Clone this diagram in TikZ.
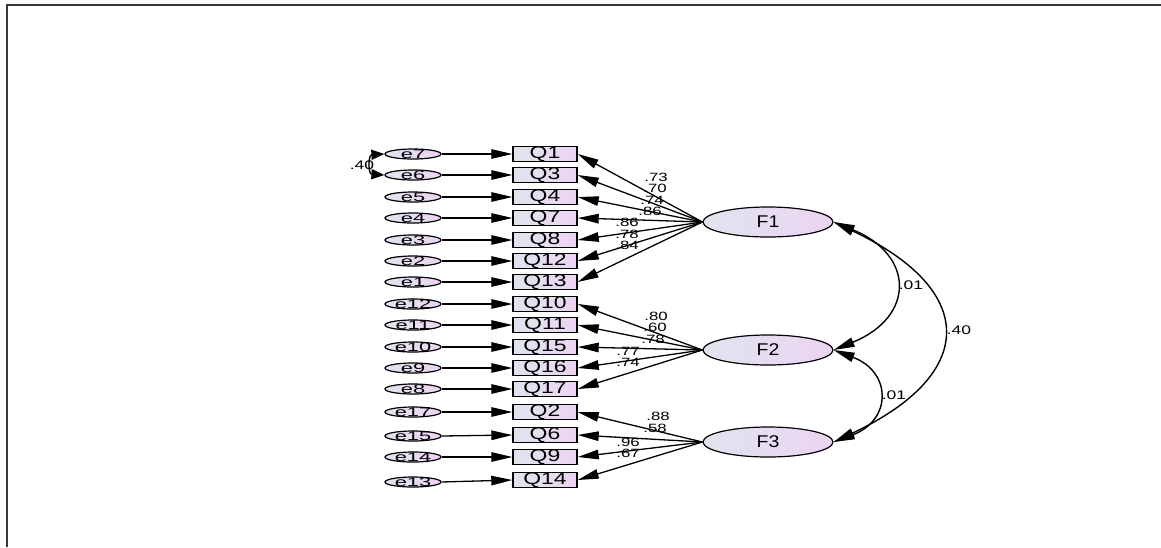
\documentclass[tikz,border=0pt]{standalone}
\usepackage{graphicx}
\usepackage{fontspec}
\setmainfont{Liberation Sans}
\usetikzlibrary{arrows.meta,shapes.geometric}
\definecolor{lgrey}{RGB}{224,228,238}
\definecolor{lvio}{RGB}{237,212,243}
\definecolor{framec}{RGB}{55,55,55}
\newcommand\hstr[2]{\scalebox{#1}[1]{#2}}
\begin{document}
\begin{tikzpicture}[x=1pt,y=-1pt,
  tipend/.style={-{Triangle[length=21pt,width=9.5pt]}, line width=1.3pt},
  tipboth/.style={{Triangle[length=21pt,width=9.5pt]}-{Triangle[length=21pt,width=9.5pt]}, line width=1.4pt},
  tipsmall/.style={{Triangle[length=13pt,width=10pt]}-{Triangle[length=13pt,width=10pt]}, line width=1.4pt},
  ebox/.style={ellipse, draw, line width=1.2pt, minimum width=56pt, minimum height=10pt, inner sep=0pt, left color=lgrey, right color=lvio},
  etxt/.style={inner sep=0pt, font=\fontsize{12.5}{12.5}\selectfont},
  qbox/.style={rectangle, draw, line width=1.4pt, minimum width=64pt, minimum height=15pt, inner sep=0pt, left color=lgrey, right color=lvio, font=\fontsize{17}{17}\selectfont},
  fbox/.style={ellipse, draw, line width=1.2pt, minimum width=130pt, minimum height=30pt, inner sep=0pt, left color=lgrey, right color=lvio, font=\fontsize{17}{17}\selectfont},
  ld/.style={inner sep=0pt, font=\fontsize{12}{12}\selectfont},
  cv/.style={inner sep=0pt, font=\fontsize{12.5}{12.5}\selectfont}]
\useasboundingbox (0,0) rectangle (1161,547);
\draw[framec, line width=1.8pt] (7,547) -- (7,5) -- (1161,5);

% factors
\node[fbox] (F1) at (768,222) {\hstr{1.15}{F1}};
\node[fbox] (F2) at (768,350) {\hstr{1.15}{F2}};
\node[fbox] (F3) at (768,442) {\hstr{1.15}{F3}};

% indicators and errors
\foreach \q/\e/\y/\ey/\f in {Q1/e7/154/154/F1, Q3/e6/175/175/F1, Q4/e5/197/197/F1, Q7/e4/218/218/F1, Q8/e3/240/240/F1, Q12/e2/261/261/F1, Q13/e1/282/282/F1,
  Q10/e12/304/304/F2, Q11/e11/325/325/F2, Q15/e10/347/347/F2, Q16/e9/368/368/F2, Q17/e8/389/389/F2,
  Q2/e17/412/412/F3, Q6/e15/435/436/F3, Q9/e14/457/457/F3, Q14/e13/480/482/F3}{
  \node[qbox] (\q) at (545,\y) {\hstr{1.35}{\q}};
  \node[ebox] (\e) at (413,\ey) {};
  \node[etxt] (\e t) at (\e) {\hstr{1.75}{\e}};
  \draw[tipend] (\e.east) -- (\q.west);
  \draw[tipend] (\f.west) -- (\q.east);
}

% error covariance
\node[cv] (c76) at (362,165) {\hstr{1.4}{.40}};
\draw[tipsmall] (e7.west) .. controls (368,155) and (368,174) .. (e6.west);

% factor covariances
\draw[tipboth] (F1.east) .. controls (915,255) and (915,317) .. (F2.east);
\draw[tipboth] (F2.east) .. controls (892,372) and (892,420) .. (F3.east);
\draw[tipboth] (F1.east) .. controls (978,290) and (978,374) .. (F3.east);
\node[cv] (c12) at (911,285) {\hstr{1.4}{.01}};
\node[cv] (c23) at (894,395) {\hstr{1.4}{.01}};
\node[cv] (c13) at (959,330) {\hstr{1.4}{.40}};

% loadings
\node[ld] (l1) at (656,177) {\hstr{1.4}{.73}};
\node[ld] (l3) at (655,188) {\hstr{1.4}{.70}};
\node[ld] (l4) at (652,200) {\hstr{1.4}{.74}};
\node[ld] (l7) at (650,211) {\hstr{1.4}{.86}};
\node[ld] (l8) at (627,222) {\hstr{1.4}{.86}};
\node[ld] (l12) at (627,234) {\hstr{1.4}{.78}};
\node[ld] (l13) at (627,245) {\hstr{1.4}{.84}};
\node[ld] (l10) at (656,316) {\hstr{1.4}{.80}};
\node[ld] (l11) at (655,327) {\hstr{1.4}{.60}};
\node[ld] (l15) at (653,339) {\hstr{1.4}{.78}};
\node[ld] (l16) at (628,351) {\hstr{1.4}{.77}};
\node[ld] (l17) at (628,362) {\hstr{1.4}{.74}};
\node[ld] (l2) at (658,416) {\hstr{1.4}{.88}};
\node[ld] (l6) at (655,428) {\hstr{1.4}{.58}};
\node[ld] (l9) at (628,442) {\hstr{1.4}{.96}};
\node[ld] (l14) at (628,453) {\hstr{1.4}{.67}};
\end{tikzpicture}
\end{document}
